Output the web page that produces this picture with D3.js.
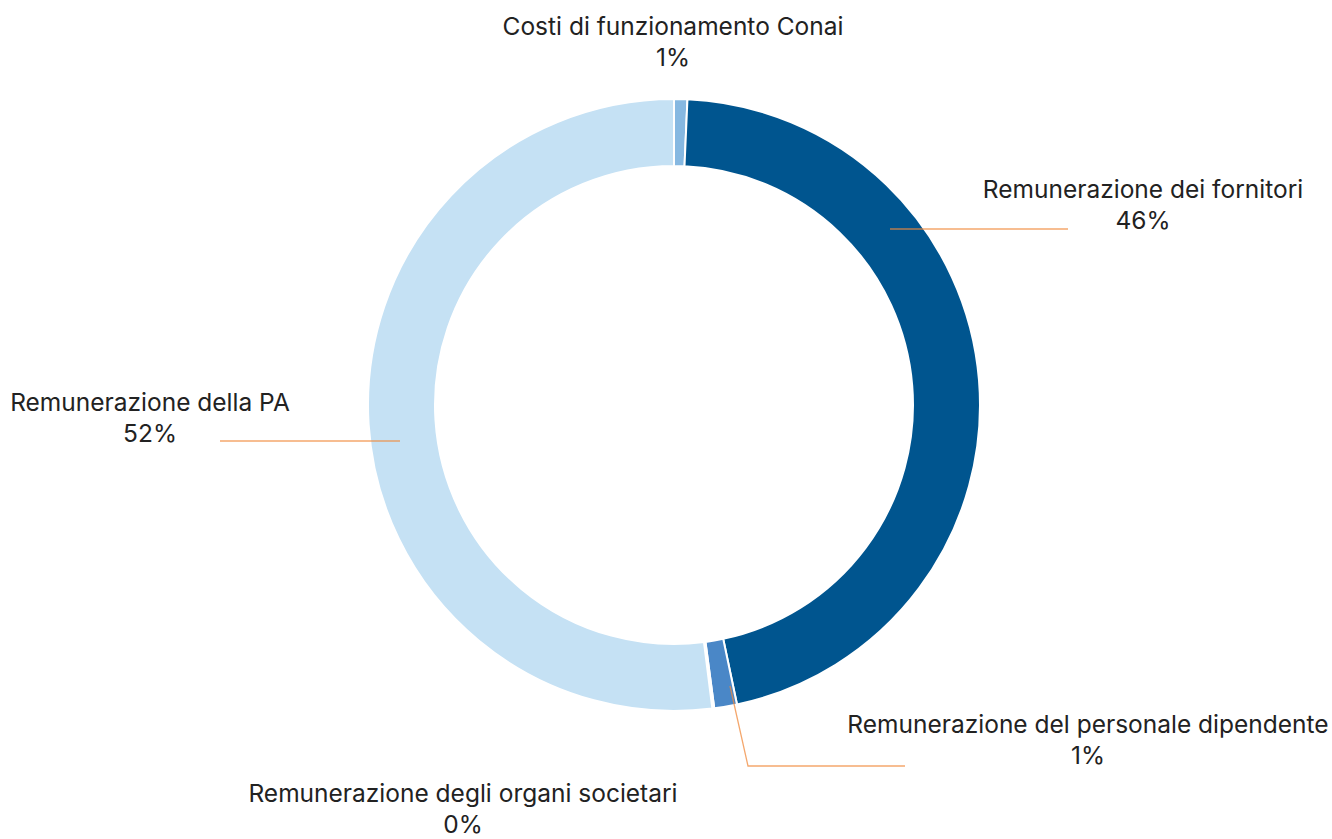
<!DOCTYPE html>
<html>
<head>
<meta charset="utf-8">
<script src="https://cdn.jsdelivr.net/npm/d3@7"></script>
<style>
  body { margin: 0; background: #fff; }
  text { font-family: Inter, "Noto Sans", sans-serif; fill: #222; }
</style>
</head>
<body>
<div id="chart"></div>
<script>
// data (clockwise from 12 o'clock)
let categories = ['Costi di funzionamento Conai', 'Remunerazione dei fornitori', 'Remunerazione del personale dipendente', 'Remunerazione degli organi societari', 'Remunerazione della PA']
let values = [0.7, 46.0, 1.2, 0.1, 52.0]
let pctLabels = ['1%', '46%', '1%', '0%', '52%']
let colors = ['#86b8e1', '#00558f', '#4a87c7', '#eef5fb', '#c5e1f4']

let width = 1332, height = 839
let cx = 674, cy = 405
let outerR = 306, innerR = 239

let svg = d3.select('#chart')
  .append('svg')
  .attr('width', width)
  .attr('height', height)

let pie = d3.pie().sort(null).value(d => d)
let arcs = pie(values)
let arc = d3.arc().innerRadius(innerR).outerRadius(outerR)

let g = svg.append('g').attr('transform', `translate(${cx},${cy})`)

g.selectAll('path')
  .data(arcs)
  .enter()
  .append('path')
  .attr('d', arc)
  .style('fill', (d, i) => colors[i])
  .style('stroke', '#fff')
  .style('stroke-width', 2)

// label placement: text x, baseline of first line, leader points or null
let labelPos = [
  { x: 673, y: 35, line: null },
  { x: 1143, y: 198, line: [[890, 229], [1068, 229]] },
  { x: 1088, y: 733, line: [[730, 686], [748, 766], [905, 766]] },
  { x: 463, y: 802, line: null },
  { x: 150, y: 411, line: [[400, 441], [220, 441]] }
]

let lineGen = d3.line()

svg.selectAll('.leader')
  .data(labelPos.filter(d => d.line))
  .enter()
  .append('path')
  .attr('class', 'leader')
  .attr('d', d => lineGen(d.line))
  .style('fill', 'none')
  .style('stroke', '#f08a3c')
  .style('stroke-opacity', 0.75)
  .style('stroke-width', 1.3)

let labels = svg.selectAll('.lbl')
  .data(arcs)
  .enter()
  .append('text')
  .attr('class', 'lbl')
  .attr('text-anchor', 'middle')
  .style('font-size', '24.5px')

labels.append('tspan')
  .attr('x', (d, i) => labelPos[i].x)
  .attr('y', (d, i) => labelPos[i].y)
  .text((d, i) => categories[i])

labels.append('tspan')
  .attr('x', (d, i) => labelPos[i].x)
  .attr('y', (d, i) => labelPos[i].y + 31)
  .text((d, i) => pctLabels[i])
</script>
</body>
</html>
